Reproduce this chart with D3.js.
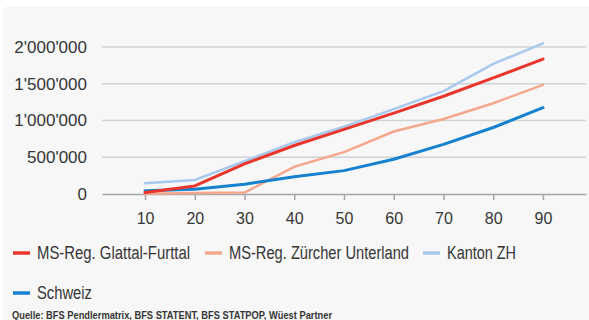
<!DOCTYPE html>
<meta charset="utf-8">
<style>
body { margin: 0; background: #fff; }
text { font-family: "Liberation Sans", Arial, sans-serif; fill: #363636; }
.axis--y text { font-size: 17px; }
.axis--x text { font-size: 16px; }
.legend text { font-size: 18px; }
.source { font-size: 10px; font-weight: bold; }
.grid line { stroke: #d2d2d2; stroke-width: 1.5; }
.line { fill: none; stroke-linejoin: round; stroke-linecap: round; }
</style>
<svg width="589" height="320"></svg>
<script src="https://d3js.org/d3.v7.min.js"></script>
<script>

var years = [10, 20, 30, 40, 50, 60, 70, 80, 90];
var yTicks = [0, 500000, 1000000, 1500000, 2000000];

var glattal   = [20000, 110000, 410000, 660000, 880000, 1100000, 1330000, 1580000, 1835000];
var unterland = [5000, 15000, 20000, 370000, 570000, 850000, 1020000, 1235000, 1485000];
var kantonZH  = [145000, 190000, 445000, 705000, 915000, 1155000, 1400000, 1770000, 2050000];
var schweiz   = [45000, 65000, 132000, 236000, 318000, 473000, 675000, 905000, 1176000];

var series = [
  {name: "Kanton ZH", values: kantonZH, color: "#a9c9ee", w: 2.5},
  {name: "MS-Reg. Zürcher Unterland", values: unterland, color: "#f5a88e", w: 2.5},
  {name: "Schweiz", values: schweiz, color: "#1581cf", w: 3},
  {name: "MS-Reg. Glattal-Furttal", values: glattal, color: "#e8362c", w: 3}
];

var svg = d3.select("svg");

svg.append("rect")
    .attr("x", 3).attr("y", 6)
    .attr("width", 600).attr("height", 330)
    .attr("rx", 6)
    .attr("fill", "#f7f7f7");

var m = {left: 102, right: 586, top: 47, bottom: 194};

var x = d3.scalePoint().domain(years).range([m.left, m.right]).padding(0.865),
    y = d3.scaleLinear().domain([0, 2000000]).range([m.bottom, m.top]);

var fmt = function(d) { return d3.format(",")(d).replace(/,/g, "'"); };

// gridlines
svg.append("g")
    .attr("class", "grid")
  .selectAll("line")
  .data(yTicks.slice(1))
  .enter().append("line")
    .attr("x1", m.left).attr("x2", m.right)
    .attr("y1", function(d) { return y(d); })
    .attr("y2", function(d) { return y(d); });

svg.append("g")
    .attr("class", "axis axis--y")
    .attr("transform", "translate(" + m.left + ",0)")
    .call(d3.axisLeft(y).tickValues(yTicks).tickFormat(fmt).tickSize(0).tickPadding(15))
    .call(function(g) { g.select(".domain").remove(); });

svg.append("g")
    .attr("class", "axis axis--x")
    .attr("transform", "translate(0," + m.bottom + ")")
    .call(d3.axisBottom(x).tickSize(6).tickSizeOuter(0).tickPadding(13))
    .call(function(g) {
      g.select(".domain").attr("stroke", "#a5a5a5").attr("stroke-width", 1.5);
      g.selectAll(".tick line").attr("stroke", "#a5a5a5").attr("stroke-width", 1.5);
    });

var line = d3.line()
    .x(function(d, i) { return x(years[i]); })
    .y(function(d) { return y(d); });

svg.selectAll(".line")
    .data(series)
  .enter().append("path")
    .attr("class", "line")
    .attr("stroke", function(d) { return d.color; })
    .attr("stroke-width", function(d) { return d.w; })
    .attr("d", function(d) { return line(d.values); });

// legend (condensed face imitated with textLength)
var legendItems = [
  {s: series[3], x: 13, y: 253, len: 153},
  {s: series[1], x: 205, y: 253, len: 180},
  {s: series[0], x: 423, y: 253, len: 69},
  {s: series[2], x: 13, y: 293, len: 55}
];

var lg = svg.append("g").attr("class", "legend")
  .selectAll("g")
  .data(legendItems)
  .enter().append("g")
    .attr("transform", function(d) { return "translate(" + d.x + "," + d.y + ")"; });

lg.append("line")
    .attr("x1", 0).attr("x2", 17)
    .attr("stroke", function(d) { return d.s.color; })
    .attr("stroke-width", 3.5);

lg.append("text")
    .attr("x", 24)
    .attr("dy", "0.35em")
    .attr("textLength", function(d) { return d.len; })
    .attr("lengthAdjust", "spacingAndGlyphs")
    .text(function(d) { return d.s.name; });

svg.append("text")
    .attr("class", "source")
    .attr("x", 12).attr("y", 319)
    .attr("textLength", 320)
    .attr("lengthAdjust", "spacingAndGlyphs")
    .text("Quelle: BFS Pendlermatrix, BFS STATENT, BFS STATPOP, Wüest Partner");

</script>
